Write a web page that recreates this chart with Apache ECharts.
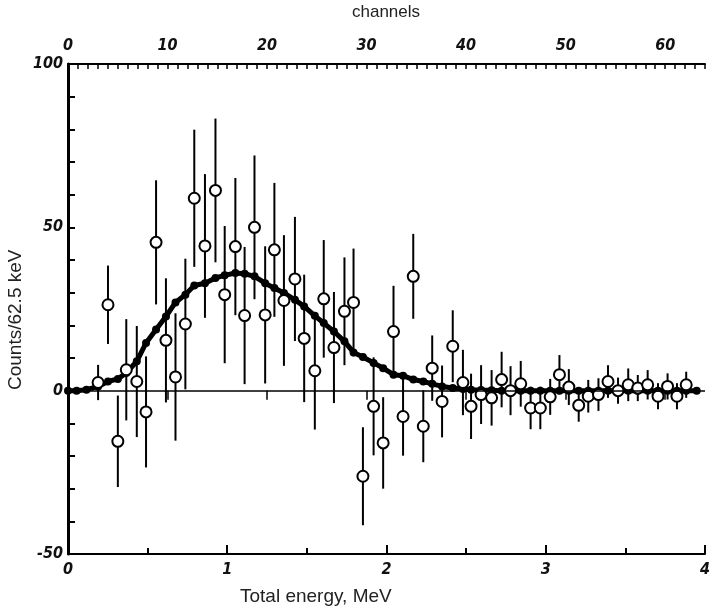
<!DOCTYPE html>
<html><head><meta charset="utf-8">
<script src="https://cdn.jsdelivr.net/npm/echarts@6/dist/echarts.min.js"></script>
<style>html,body{margin:0;padding:0;background:#fff}#c{width:713px;height:613px}</style>
</head><body><div id="c"></div>
<script>
// Measured points (energy in MeV), counts per 62.5 keV and their error half-widths
const energy = [0.189,0.251,0.313,0.366,0.432,0.490,0.553,0.615,0.675,0.737,0.793,0.860,0.926,0.984,1.051,1.109,1.171,1.238,1.296,1.356,1.425,1.483,1.550,1.606,1.670,1.736,1.793,1.852,1.919,1.979,2.044,2.104,2.168,2.231,2.287,2.349,2.416,2.480,2.531,2.594,2.660,2.723,2.779,2.843,2.905,2.966,3.028,3.086,3.145,3.207,3.267,3.331,3.391,3.454,3.518,3.578,3.640,3.705,3.765,3.824,3.882];
const counts = [2.5,26.3,-15.5,6.4,2.8,-6.5,45.4,15.4,4.2,20.4,58.9,44.3,61.3,29.4,44.1,23.0,50.0,23.2,43.1,27.6,34.2,16.0,6.1,28.1,13.2,24.3,27.0,-26.2,-4.8,-16.0,18.1,-7.9,35.0,-10.9,6.9,-3.3,13.6,2.5,-4.8,-1.2,-2.2,3.4,0.0,2.1,-5.3,-5.3,-1.9,4.9,1.1,-4.5,-1.7,-1.2,2.8,0.0,1.8,0.8,1.8,-1.7,1.3,-1.7,1.8];
const errors = [5.4,12,14,15.5,17,17,19,19,19.5,20,21,22,22,21,21,21,22,21,20.5,20,19,19.5,18,18,17,16.5,16.5,15,15,14,14,12,13,11,10,11,11,10,10,9,8.5,8.5,7.5,7,6.5,6.5,5.5,6,5.5,5,5,5,5,4,5,4,4.5,4,4,4,4];
// Fitted curve
const fitEnergy = [0.000,0.054,0.116,0.189,0.251,0.313,0.366,0.432,0.490,0.553,0.615,0.675,0.737,0.793,0.860,0.926,0.984,1.051,1.109,1.171,1.238,1.296,1.356,1.425,1.483,1.550,1.606,1.670,1.736,1.793,1.852,1.919,1.979,2.044,2.104,2.168,2.231,2.287,2.349,2.416,2.480,2.531,2.594,2.660,2.723,2.779,2.843,2.905,2.966,3.028,3.086,3.145,3.207,3.267,3.331,3.391,3.454,3.518,3.578,3.640,3.705,3.765,3.824,3.882,3.948];
const fitCounts = [0,0,0.3,1.3,2.8,3.6,5.4,9.0,14.6,18.7,22.7,27.0,29.4,32.2,32.9,34.5,35.3,36.0,35.8,35.0,32.9,31.4,29.9,27.8,25.8,22.9,20.7,18.1,15.1,11.7,10.3,8.5,6.9,4.9,4.6,3.4,2.8,2.1,1.3,0.8,0.5,0.3,0.2,0.1,0,0,0,0,0,0,0,0,0,0,0,0,0,0,0,0,0,0,0,0,0];
// Tick labels
const energyTicks = [0,1,2,3,4];
const channelTicks = [0,10,20,30,40,50,60];
const countTicks = [-50,0,50,100];
const channelCount = 64;

const channelMinor = [];
for (let c = 0; c <= channelCount; c++) channelMinor.push(c);

const tickFont = {fontFamily:'"Liberation Sans Narrow","DejaVu Sans Condensed",sans-serif', fontStyle:'italic', fontWeight:'bold', fontSize:16, color:'#111'};
const titleFont = '"Liberation Sans", Arial, sans-serif';

const bars = energy.map((e,i)=>[e, counts[i]-errors[i], counts[i]+errors[i]]);
const pts = energy.map((e,i)=>[e, counts[i]]);
const fit = fitEnergy.map((e,i)=>[e, fitCounts[i]]);

const chart = echarts.init(document.getElementById('c'), null, {renderer:'canvas'});
chart.setOption({
  animation:false,
  backgroundColor:'#fff',
  grid:{left:68, right:3, top:64, bottom:59},
  xAxis:[
    {type:'value', position:'bottom', min:energyTicks[0], max:energyTicks[energyTicks.length-1], interval:1,
     axisLine:{onZero:false, lineStyle:{color:'#000', width:2}},
     axisTick:{inside:true, length:9, lineStyle:{color:'#000', width:2}},
     minorTick:{show:true, splitNumber:2, length:6, lineStyle:{color:'#000', width:2}},
     splitLine:{show:false},
     axisLabel:Object.assign({margin:8}, tickFont)},
    {type:'value', position:'top', min:0, max:channelCount,
     axisLine:{onZero:false, lineStyle:{color:'#000', width:2}},
     axisTick:{inside:true, length:5, customValues:channelMinor, lineStyle:{color:'#000', width:1.5}},
     splitLine:{show:false},
     axisLabel:Object.assign({margin:10, customValues:channelTicks}, tickFont)},
    {type:'value', position:'top', min:0, max:channelCount,
     axisLine:{show:false},
     axisTick:{inside:true, length:9, customValues:channelTicks, lineStyle:{color:'#000', width:1.5}},
     splitLine:{show:false},
     axisLabel:{show:false}}
  ],
  yAxis:{type:'value', min:countTicks[0], max:countTicks[countTicks.length-1], interval:50,
    axisLine:{onZero:false, lineStyle:{color:'#000', width:3}},
    axisTick:{inside:true, length:7, lineStyle:{color:'#000', width:2}},
    minorTick:{show:true, splitNumber:5, length:7, lineStyle:{color:'#000', width:2}},
    splitLine:{show:false},
    axisLabel:Object.assign({margin:5}, tickFont)},
  graphic:[
    {type:'text', x:352, y:4, style:{text:'channels', font:'17px '+titleFont, fill:'#222'}},
    {type:'text', x:240, y:587, style:{text:'Total energy, MeV', font:'19px '+titleFont, fill:'#222'}},
    {type:'text', x:6, y:390, rotation:Math.PI/2, style:{text:'Counts/62.5 keV', font:'19px '+titleFont, fill:'#222'}}
  ],
  series:[
    {type:'custom', xAxisIndex:0, z:2, data:bars, encode:{x:0, y:[1,2]},
     renderItem:function(params, api){
       const x = api.value(0);
       const a = api.coord([x, api.value(1)]);
       const b = api.coord([x, api.value(2)]);
       return {type:'line', shape:{x1:a[0], y1:a[1], x2:b[0], y2:b[1]}, style:{stroke:'#000', lineWidth:2}};
     }},
    {type:'line', xAxisIndex:0, z:3, data:fit, symbol:'circle', symbolSize:8, showSymbol:true,
     lineStyle:{color:'#000', width:5}, itemStyle:{color:'#000', opacity:1},
     markLine:{silent:true, symbol:'none', label:{show:false}, lineStyle:{color:'#000', width:1.5, type:'solid'}, data:[{yAxis:0}]}},
    {type:'scatter', xAxisIndex:0, z:4, data:pts, symbol:'circle', symbolSize:11,
     itemStyle:{color:'#fff', borderColor:'#000', borderWidth:2, opacity:1}}
  ]
});
</script></body></html>
